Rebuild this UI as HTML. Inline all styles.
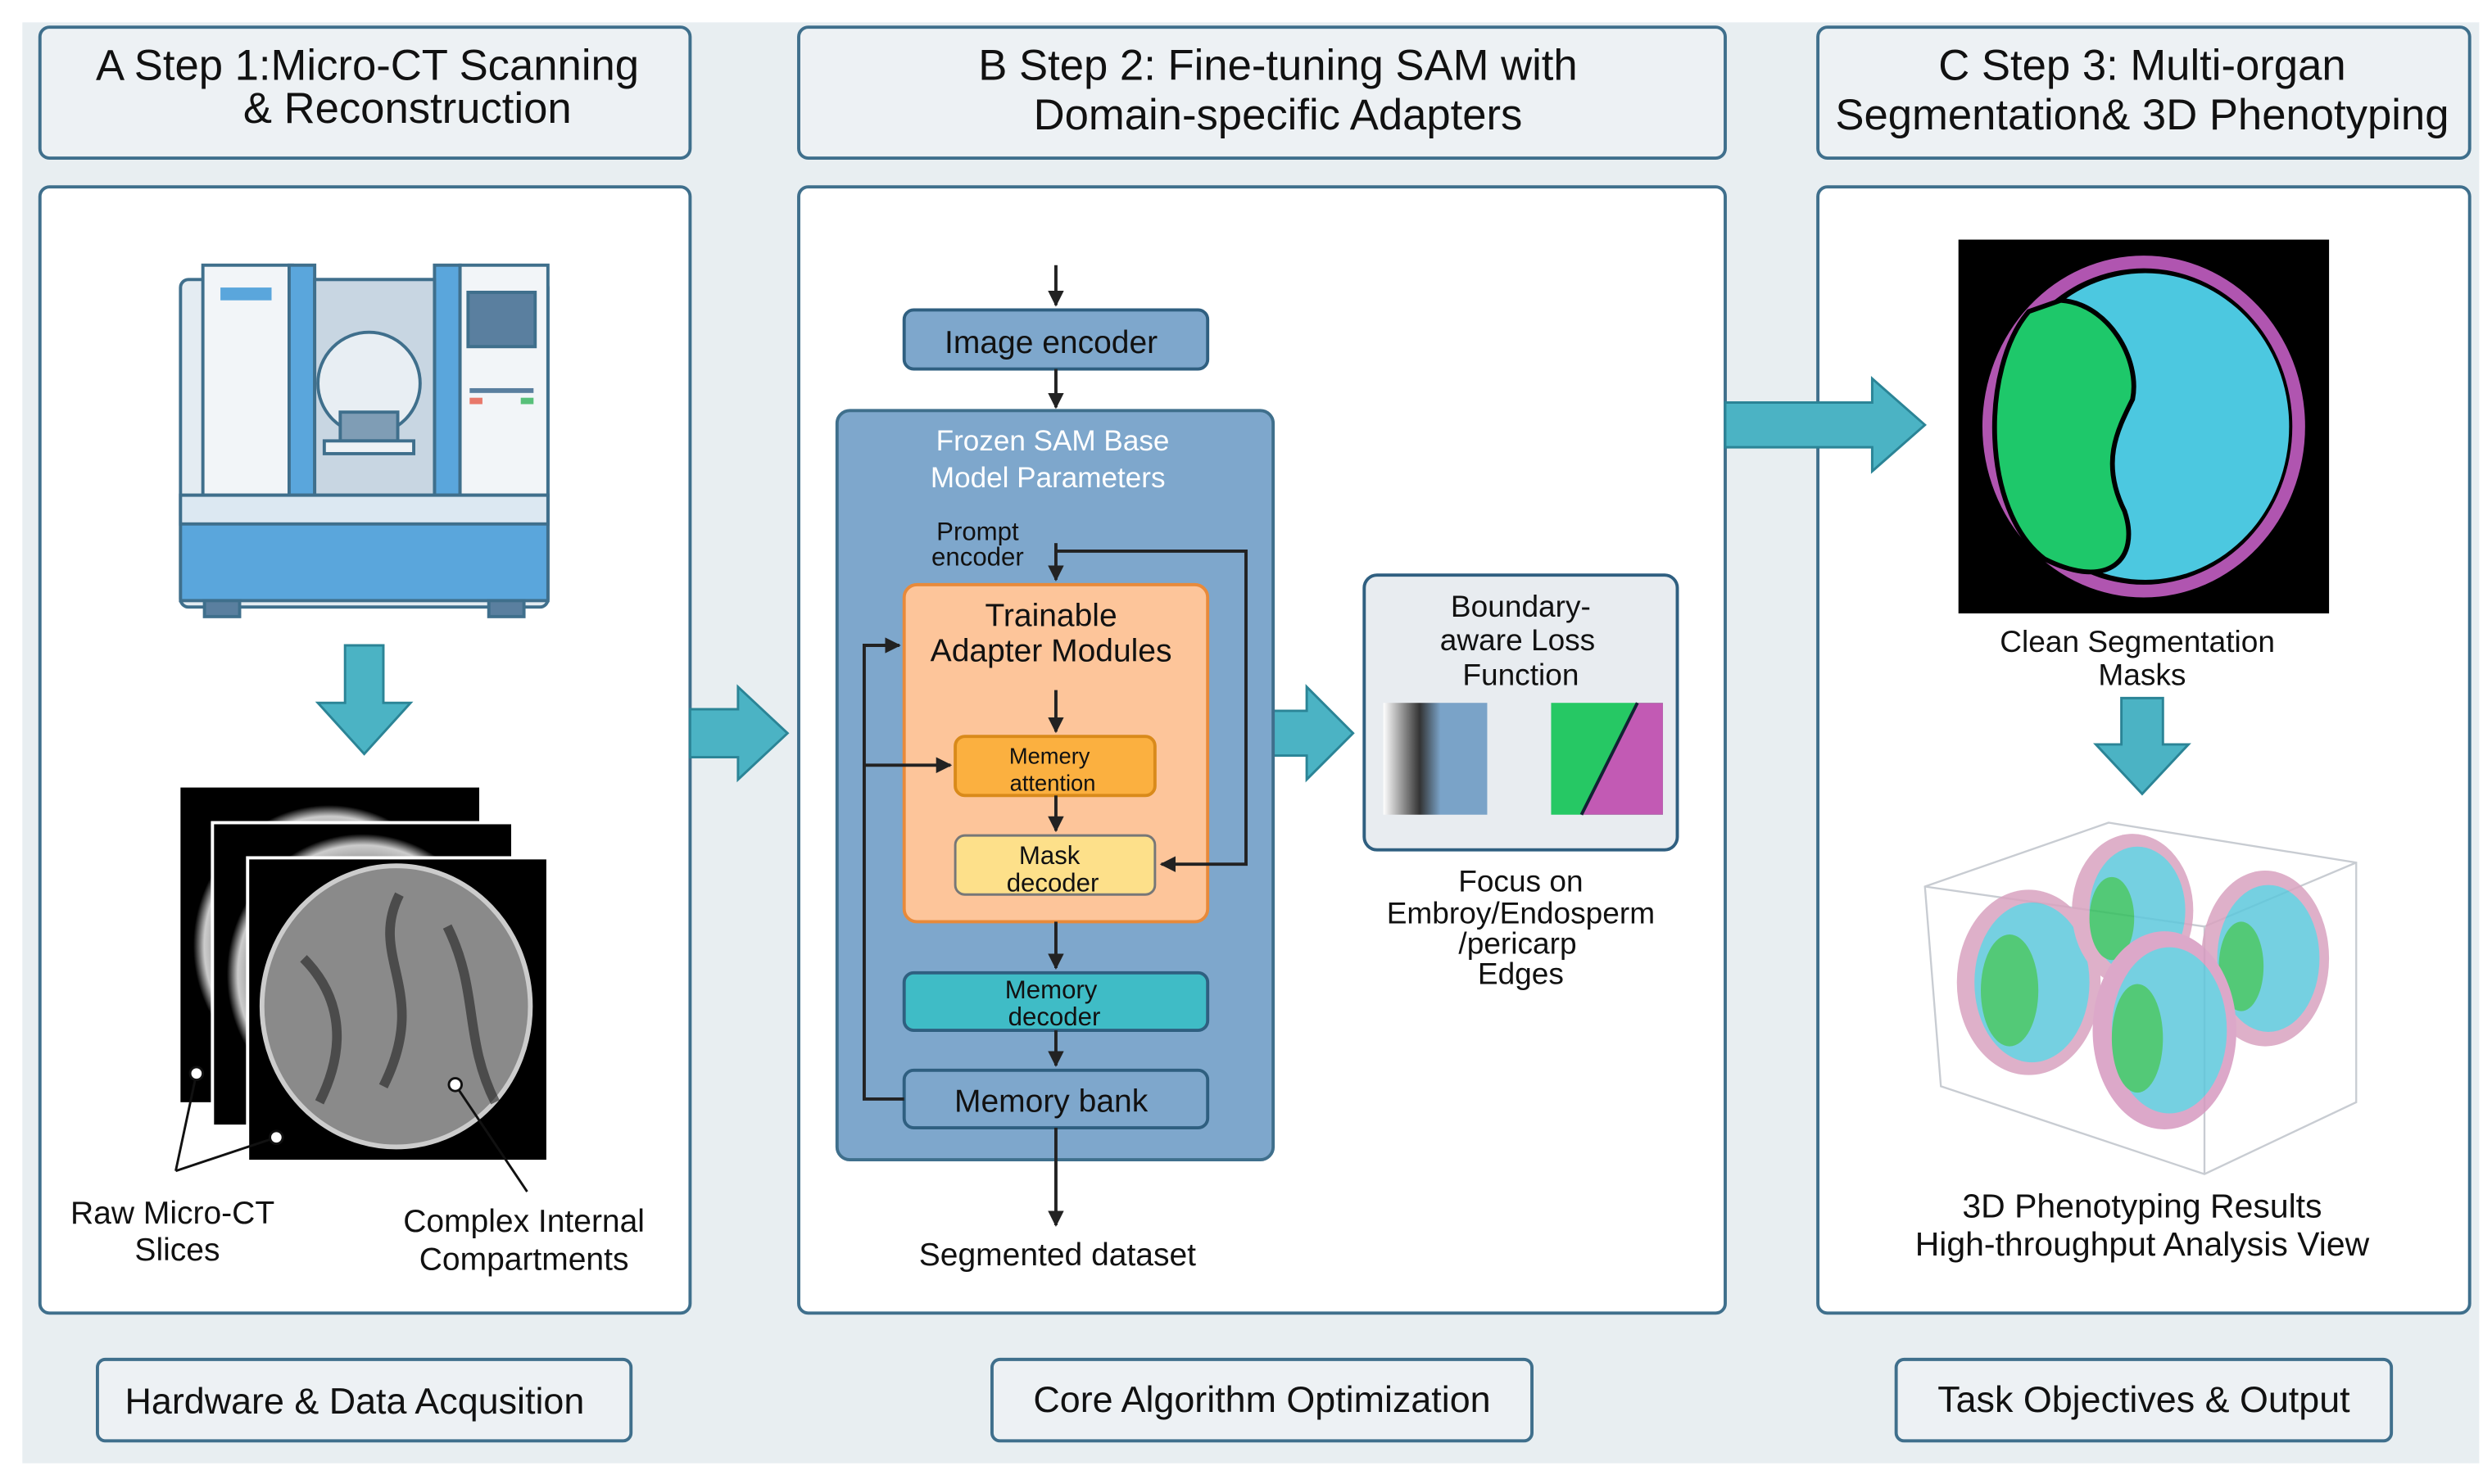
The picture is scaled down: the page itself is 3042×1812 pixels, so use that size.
<!DOCTYPE html>
<html><head><meta charset="utf-8"><style>
html,body{margin:0;padding:0;background:#fff;}
svg{display:block;font-family:"Liberation Sans",Arial,sans-serif;}
</style></head><body>
<svg width="3042" height="1812" viewBox="0 0 1560 929" preserveAspectRatio="none" xmlns="http://www.w3.org/2000/svg">
<defs>
<marker id="ah" viewBox="0 0 10 10" refX="9" refY="5" markerWidth="5" markerHeight="5" orient="auto"><path d="M0,0 L10,5 L0,10 z" fill="#222"/></marker>
<radialGradient id="slice" cx="50%" cy="50%" r="50%"><stop offset="0" stop-color="#777"/><stop offset="0.8" stop-color="#999"/><stop offset="0.92" stop-color="#ccc"/><stop offset="1" stop-color="#000"/></radialGradient>
<linearGradient id="blur" x1="0" y1="0" x2="1" y2="0"><stop offset="0" stop-color="#fff"/><stop offset="0.35" stop-color="#333"/><stop offset="0.55" stop-color="#7aa3c8"/></linearGradient>
</defs>
<rect x="0" y="0" width="1560" height="929" fill="#fff"/>
<rect x="14" y="14" width="1538" height="902" fill="#e8eef1"/>

<!-- Header boxes -->
<g fill="#edf1f4" stroke="#3f6f8c" stroke-width="2">
<rect x="25" y="17" width="407" height="82" rx="6"/>
<rect x="500" y="17" width="580" height="82" rx="6"/>
<rect x="1138" y="17" width="408" height="82" rx="6"/>
</g>
<g font-size="27" fill="#111" text-anchor="middle">
<text x="230" y="50">A Step 1:Micro-CT Scanning</text>
<text x="255" y="77">&amp; Reconstruction</text>
<text x="800" y="50">B Step 2: Fine-tuning SAM with</text>
<text x="800" y="81">Domain-specific Adapters</text>
<text x="1341" y="50">C Step 3: Multi-organ</text>
<text x="1341" y="81">Segmentation&amp; 3D Phenotyping</text>
</g>

<!-- Content boxes -->
<g fill="#fff" stroke="#3f6f8c" stroke-width="2">
<rect x="25" y="117" width="407" height="705" rx="6"/>
<rect x="500" y="117" width="580" height="705" rx="6"/>
<rect x="1138" y="117" width="408" height="705" rx="6"/>
</g>

<!-- Footer boxes -->
<g fill="#edf1f4" stroke="#3f6f8c" stroke-width="2">
<rect x="61" y="851" width="334" height="51" rx="5"/>
<rect x="621" y="851" width="338" height="51" rx="5"/>
<rect x="1187" y="851" width="310" height="51" rx="5"/>
</g>
<g font-size="23" fill="#111" text-anchor="middle">
<text x="222" y="885">Hardware &amp; Data Acqusition</text>
<text x="790" y="884">Core Algorithm Optimization</text>
<text x="1342" y="884">Task Objectives &amp; Output</text>
</g>

<!-- Big teal arrows -->
<g fill="#4bb3c4" stroke="#2b8496" stroke-width="1.5">
<path d="M432,444 L462,444 L462,430 L493,459 L462,488 L462,474 L432,474 z"/>
<path d="M1080,252 L1172,252 L1172,237 L1205,266 L1172,295 L1172,280 L1080,280 z"/>
<path d="M797,445 L818,445 L818,430 L847,459 L818,488 L818,473 L797,473 z"/>
<path d="M216,404 L240,404 L240,440 L257,440 L228,472 L199,440 L216,440 z"/>
<path d="M1328,437 L1354,437 L1354,466 L1370,466 L1341,497 L1312,466 L1328,466 z"/>
</g>

<!-- CT machine -->
<g stroke="#3f6f8c" stroke-width="2">
<rect x="113" y="175" width="230" height="205" rx="5" fill="#e4ecf2"/>
<rect x="127" y="166" width="56" height="144" fill="#f2f5f8"/>
<rect x="181" y="166" width="16" height="144" fill="#5aa6dc"/>
<rect x="272" y="166" width="16" height="144" fill="#5aa6dc"/>
<rect x="288" y="166" width="55" height="144" fill="#f2f5f8"/>
<rect x="197" y="175" width="75" height="135" fill="#c8d6e2"/>
<rect x="113" y="310" width="230" height="66" fill="#5aa6dc"/>
<rect x="113" y="310" width="230" height="18" fill="#dce8f2"/>
<circle cx="231" cy="240" r="32" fill="#e8eef3"/>
<rect x="213" y="258" width="36" height="18" fill="#7f9db5"/>
<rect x="203" y="276" width="56" height="8" fill="#eef2f5"/>
<rect x="293" y="183" width="42" height="34" fill="#5a7f9f"/>
<rect x="128" y="376" width="22" height="10" fill="#5a7f9f"/>
<rect x="306" y="376" width="22" height="10" fill="#5a7f9f"/>
</g>
<rect x="138" y="180" width="32" height="8" fill="#5aa6dc"/>
<rect x="294" y="243" width="40" height="3" fill="#5a7f9f"/>
<rect x="294" y="249" width="8" height="4" fill="#e8786a"/>
<rect x="326" y="249" width="8" height="4" fill="#58c07a"/>

<!-- Slices -->
<rect x="113" y="493" width="187" height="197" fill="#000"/>
<ellipse cx="206" cy="592" rx="85" ry="88" fill="url(#slice)"/>
<rect x="133" y="515" width="188" height="190" fill="#000" stroke="#fff" stroke-width="2"/>
<ellipse cx="227" cy="610" rx="85" ry="88" fill="url(#slice)"/>
<rect x="155" y="537" width="188" height="190" fill="#000" stroke="#fff" stroke-width="2"/>
<ellipse cx="248" cy="630" rx="84" ry="88" fill="#8a8a8a" stroke="#ccc" stroke-width="3"/>
<path d="M250,560 C230,600 270,620 240,680 M280,580 C300,620 290,650 310,690 M190,600 C210,620 220,650 200,690" stroke="#222" stroke-width="6" fill="none" opacity="0.6"/>
<g stroke="#111" stroke-width="1.5" fill="#fff">
<line x1="123" y1="672" x2="110" y2="733"/>
<line x1="173" y1="712" x2="110" y2="733"/>
<line x1="285" y1="679" x2="330" y2="746"/>
<circle cx="123" cy="672" r="4"/><circle cx="173" cy="712" r="4"/><circle cx="285" cy="679" r="4"/>
</g>
<g font-size="20" fill="#111" text-anchor="middle">
<text x="108" y="766">Raw Micro-CT</text>
<text x="111" y="789">Slices</text>
<text x="328" y="771">Complex Internal</text>
<text x="328" y="795">Compartments</text>
</g>

<!-- Panel B -->
<rect x="524" y="257" width="273" height="469" rx="8" fill="#7ea7cc" stroke="#3f6f8c" stroke-width="2"/>
<rect x="566" y="194" width="190" height="37" rx="6" fill="#7ea7cc" stroke="#2f5f80" stroke-width="2"/>
<text x="658" y="221" font-size="20" text-anchor="middle" fill="#111">Image encoder</text>
<text x="659" y="282" font-size="18" text-anchor="middle" fill="#fff">Frozen SAM Base</text>
<text x="656" y="305" font-size="18" text-anchor="middle" fill="#fff">Model Parameters</text>
<text x="612" y="338" font-size="16" text-anchor="middle" fill="#111">Prompt</text>
<text x="612" y="354" font-size="16" text-anchor="middle" fill="#111">encoder</text>
<rect x="566" y="366" width="190" height="211" rx="8" fill="#fdc59a" stroke="#e88a3a" stroke-width="2"/>
<text x="658" y="392" font-size="20" text-anchor="middle" fill="#111">Trainable</text>
<text x="658" y="414" font-size="20" text-anchor="middle" fill="#111">Adapter Modules</text>
<rect x="598" y="461" width="125" height="37" rx="6" fill="#fbb040" stroke="#d98a1a" stroke-width="2"/>
<text x="657" y="478" font-size="14" text-anchor="middle" fill="#111">Memery</text>
<text x="659" y="495" font-size="14" text-anchor="middle" fill="#111">attention</text>
<rect x="598" y="523" width="125" height="37" rx="6" fill="#fde08a" stroke="#777" stroke-width="1.5"/>
<text x="657" y="541" font-size="16" text-anchor="middle" fill="#111">Mask</text>
<text x="659" y="558" font-size="16" text-anchor="middle" fill="#111">decoder</text>
<rect x="566" y="609" width="190" height="36" rx="6" fill="#3fbcc6" stroke="#2f5f80" stroke-width="2"/>
<text x="658" y="625" font-size="16" text-anchor="middle" fill="#111">Memory</text>
<text x="660" y="642" font-size="16" text-anchor="middle" fill="#111">decoder</text>
<rect x="566" y="670" width="190" height="36" rx="6" fill="#7ea7cc" stroke="#2f5f80" stroke-width="2"/>
<text x="658" y="696" font-size="20" text-anchor="middle" fill="#111">Memory bank</text>

<g stroke="#222" stroke-width="2" fill="none" marker-end="url(#ah)">
<line x1="661" y1="166" x2="661" y2="191"/>
<line x1="661" y1="231" x2="661" y2="255"/>
<line x1="661" y1="340" x2="661" y2="363"/>
<line x1="661" y1="432" x2="661" y2="458"/>
<line x1="661" y1="498" x2="661" y2="520"/>
<line x1="661" y1="577" x2="661" y2="606"/>
<line x1="661" y1="645" x2="661" y2="667"/>
<line x1="661" y1="706" x2="661" y2="767"/>
<polyline points="661,345 780,345 780,541 727,541"/>
<polyline points="566,688 541,688 541,404 563,404"/>
<polyline points="541,479 595,479"/>
<line x1="940" y1="475" x2="965" y2="475"/>
</g>
<text x="662" y="792" font-size="20" text-anchor="middle" fill="#111">Segmented dataset</text>

<!-- Boundary box -->
<rect x="854" y="360" width="196" height="172" rx="8" fill="#e8ecf0" stroke="#2f5f80" stroke-width="2"/>
<g font-size="19" fill="#111" text-anchor="middle">
<text x="952" y="386">Boundary-</text>
<text x="950" y="407">aware Loss</text>
<text x="952" y="429">Function</text>
</g>
<rect x="866" y="440" width="65" height="70" fill="url(#blur)"/>
<rect x="971" y="440" width="70" height="70" fill="#26c864"/>
<path d="M1025,440 L1041,440 L1041,510 L990,510 z" fill="#c25ab4"/>
<line x1="1025" y1="440" x2="990" y2="510" stroke="#123" stroke-width="2"/>
<g font-size="19" fill="#111" text-anchor="middle">
<text x="952" y="558">Focus on</text>
<text x="952" y="578">Embroy/Endosperm</text>
<text x="950" y="597">/pericarp</text>
<text x="952" y="616">Edges</text>
</g>

<!-- Panel C -->
<rect x="1226" y="150" width="232" height="234" fill="#000"/>
<ellipse cx="1342" cy="267" rx="101" ry="107" fill="#b055b0"/>
<ellipse cx="1342" cy="267" rx="93" ry="99" fill="#000"/>
<ellipse cx="1343" cy="267" rx="90" ry="96" fill="#4cc8e0"/>
<path d="M1270,195 C1240,230 1240,320 1280,350 C1320,370 1340,350 1330,320 C1315,290 1325,270 1335,250 C1340,225 1320,190 1290,188 z" fill="#1ec86a" stroke="#000" stroke-width="3"/>
<g font-size="19" fill="#111" text-anchor="middle">
<text x="1338" y="408">Clean Segmentation</text>
<text x="1341" y="429">Masks</text>
</g>
<!-- 3D box -->
<g stroke="#c8ccd2" stroke-width="1.2" fill="none">
<path d="M1205,555 L1320,515 L1475,540 L1475,690 L1380,735 L1215,680 z"/>
<line x1="1205" y1="555" x2="1380" y2="580"/><line x1="1380" y1="580" x2="1475" y2="540"/><line x1="1380" y1="580" x2="1380" y2="735"/>
</g>
<g opacity="0.85">
<ellipse cx="1270" cy="615" rx="45" ry="58" fill="#d9a3c0"/><ellipse cx="1272" cy="615" rx="36" ry="50" fill="#5ec8dc"/><ellipse cx="1258" cy="620" rx="18" ry="35" fill="#36c060"/>
<ellipse cx="1335" cy="570" rx="38" ry="48" fill="#d9a3c0"/><ellipse cx="1338" cy="570" rx="30" ry="40" fill="#5ec8dc"/><ellipse cx="1322" cy="575" rx="14" ry="26" fill="#36c060"/>
<ellipse cx="1418" cy="600" rx="40" ry="55" fill="#d9a3c0"/><ellipse cx="1420" cy="600" rx="32" ry="46" fill="#5ec8dc"/><ellipse cx="1403" cy="605" rx="14" ry="28" fill="#36c060"/>
<ellipse cx="1355" cy="645" rx="45" ry="62" fill="#d69ac0"/><ellipse cx="1358" cy="645" rx="36" ry="52" fill="#5ec8dc"/><ellipse cx="1338" cy="650" rx="16" ry="34" fill="#36c060"/>
</g>
<g font-size="21" fill="#111" text-anchor="middle">
<text x="1341" y="762">3D Phenotyping Results</text>
<text x="1341" y="786">High-throughput Analysis View</text>
</g>
</svg>
</body></html>
